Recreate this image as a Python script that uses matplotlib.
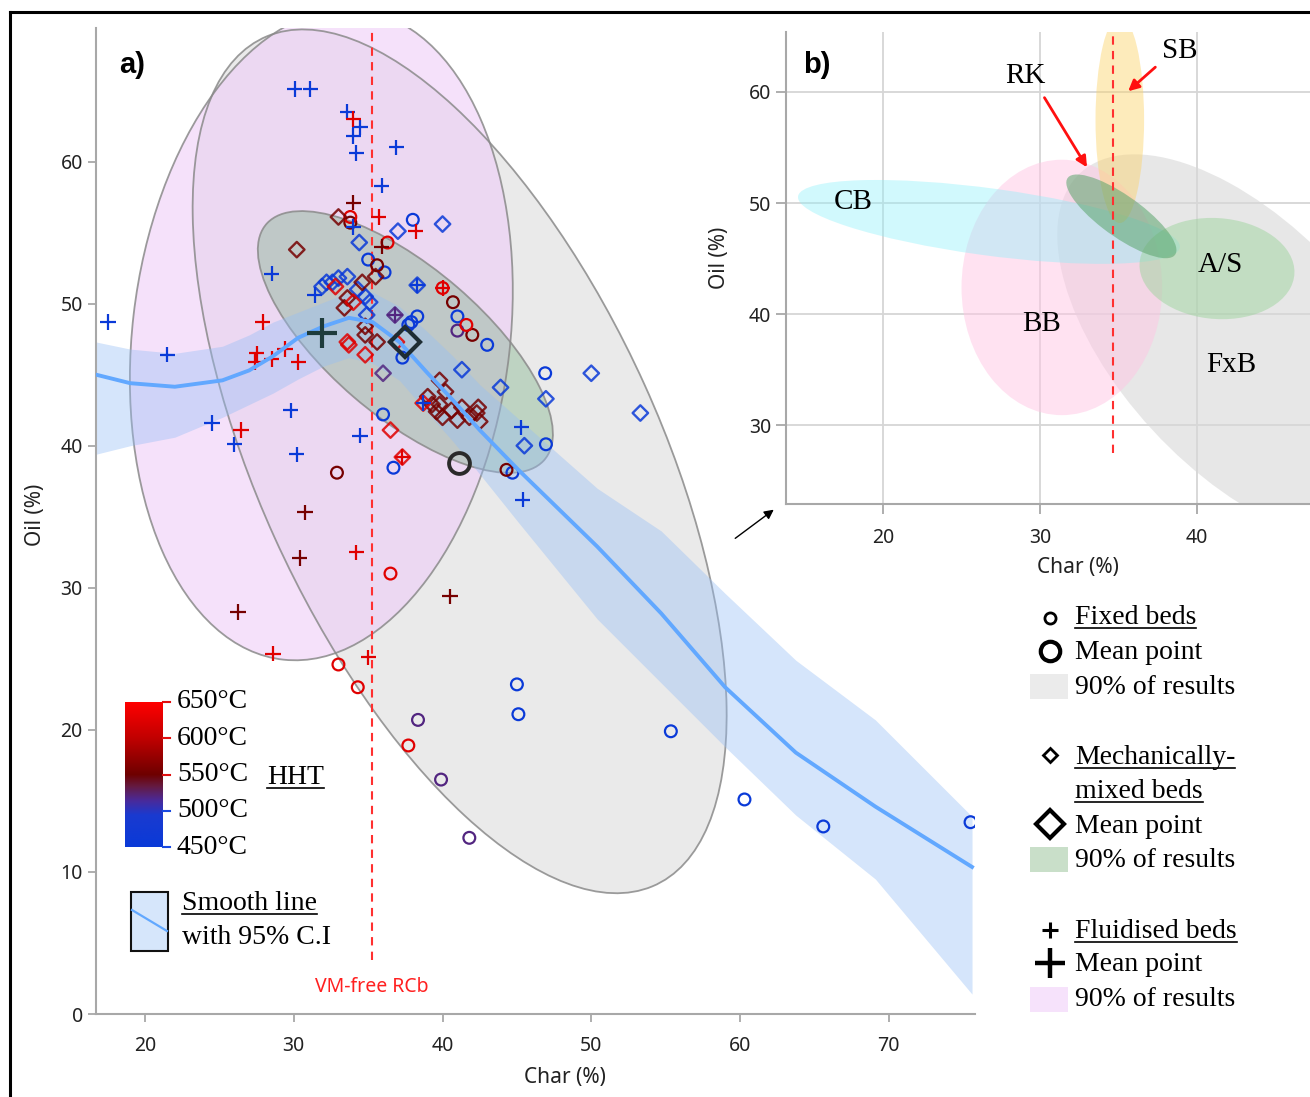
import matplotlib
matplotlib.use("Agg")
import matplotlib.pyplot as plt
from matplotlib.colors import LinearSegmentedColormap, Normalize
from matplotlib.patches import Ellipse, Rectangle
from matplotlib.lines import Line2D
import numpy as np

W, H = 1310, 1097
SANS = ["Noto Sans", "DejaVu Sans"]
BOLD = ["Liberation Sans", "DejaVu Sans"]
SERIF = ["Liberation Serif", "DejaVu Serif"]

# ---- panel a) data: char (%), oil (%), HHT (degC) ----
fluid_char = [17.5, 21.5, 24.5, 26.0, 29.8, 30.2, 34.45, 28.5, 30.05, 31.1, 33.6, 34.45,
              34.0, 34.2, 36.9, 35.9, 34.0, 31.4, 38.3, 38.7, 45.3, 45.4,
              36.8,
              34.0, 35.9, 30.75, 30.4, 40.5, 26.25,
              34.0, 35.7, 38.2, 40.0, 27.9, 27.5, 27.4, 28.5, 29.4, 30.3, 26.45, 34.2,
              28.6, 35.0, 37.3]
fluid_oil = [48.7, 46.4, 41.6, 40.1, 42.5, 39.4, 40.7, 52.1, 65.1, 65.1, 63.5, 62.4,
             61.8, 60.6, 61.0, 58.3, 55.4, 50.6, 51.3, 43.0, 41.3, 36.2,
             49.2,
             57.1, 54.0, 35.3, 32.1, 29.4, 28.3,
             63.0, 56.1, 55.1, 51.1, 48.7, 46.5, 45.9, 46.1, 46.8, 45.9, 41.1, 32.5,
             25.35, 25.1, 39.2]
fluid_temp = [450] * 22 + [520] + [555] * 6 + [625] * 15

fixed_char = [38.0, 35.0, 36.1, 37.9, 38.3, 37.7, 41.0, 43.0, 37.3, 36.0, 36.7, 44.7,
              46.9, 46.95, 45.0, 45.1, 55.35, 60.3, 65.6, 75.5,
              41.0, 38.35, 39.9, 41.8,
              33.8, 35.6, 40.7, 42.0, 32.9, 44.3,
              33.8, 36.3, 40.0, 41.6, 36.5, 33.0, 34.3, 37.7]
fixed_oil = [55.9, 53.1, 52.2, 48.7, 49.1, 48.5, 49.1, 47.1, 46.2, 42.2, 38.45, 38.1,
             45.1, 40.1, 23.2, 21.1, 19.9, 15.1, 13.2, 13.5,
             48.1, 20.7, 16.5, 12.4,
             55.7, 52.7, 50.1, 47.8, 38.1, 38.3,
             56.1, 54.3, 51.1, 48.5, 31.0, 24.6, 23.0, 18.9]
fixed_temp = [450] * 20 + [520] * 4 + [555] * 6 + [625] * 8

mixed_char = [37.0, 40.0, 34.4, 38.3, 31.9, 32.2, 32.6, 33.0, 33.6, 34.3, 34.8, 35.1,
              34.9, 41.3, 43.9, 46.95, 50.0, 53.3, 45.5,
              36.8, 36.0,
              33.0, 30.2, 35.5, 34.6, 33.6, 33.4, 34.8, 34.8, 35.6,
              39.8, 40.2, 39.0, 39.3, 39.8, 39.6, 40.0, 40.6, 41.3, 41.8, 42.4, 42.3,
              42.5, 41.0,
              32.8, 34.0, 33.6, 33.7, 34.8, 36.9, 36.5, 37.3, 38.7]
mixed_oil = [55.1, 55.6, 54.3, 51.3, 51.2, 51.5, 51.5, 51.8, 51.9, 51.0, 50.5, 50.1,
             49.2, 45.35, 44.1, 43.3, 45.1, 42.3, 40.0,
             49.2, 45.1,
             56.1, 53.8, 51.9, 51.5, 50.4, 49.7, 48.4, 47.8, 47.3,
             44.6, 43.8, 43.45, 42.9, 42.9, 42.4, 42.0, 42.5, 42.7, 42.0, 42.7, 42.3,
             41.7, 41.8,
             51.2, 50.1, 47.3, 47.1, 46.4, 47.3, 41.1, 39.2, 43.0]
mixed_temp = [450] * 19 + [520] * 2 + [555] * 23 + [625] * 9

fixed_mean = (41.1, 38.8)
mixed_mean = (37.5, 47.3)
fluid_mean = (31.9, 47.9)

# 90 % regions: centre x, centre y, width, height, angle (data units)
fixed_region = (41.15, 38.9, 65.2, 27.1, -66.6)
mixed_region = (37.5, 47.3, 25.0, 10.4, -42.0)
fluid_region = (31.85, 47.8, 46.0, 25.4, 83.7)

# smooth line with 95 % CI
smooth_char = [16.7, 19.0, 22.0, 25.2, 27.0, 28.6, 30.3, 32.0, 33.7, 35.3, 37.1, 39.0,
               40.7, 42.5, 45.1, 50.4, 54.7, 59.0, 63.75, 69.1, 75.6]
smooth_oil = [45.0, 44.4, 44.15, 44.6, 45.3, 46.3, 47.6, 48.4, 49.0, 48.7, 47.3, 45.1,
              43.2, 41.1, 38.3, 32.9, 28.2, 23.0, 18.4, 14.6, 10.35]
ci_high = [47.3, 46.8, 46.5, 47.0, 47.8, 48.7, 49.4, 50.1, 50.8, 50.8, 49.8, 48.0,
           46.3, 44.3, 41.9, 37.0, 34.0, 29.6, 24.9, 20.7, 13.9]
ci_low = [39.4, 40.0, 40.6, 42.0, 42.9, 43.7, 44.7, 45.6, 46.2, 45.8, 44.6, 42.3,
          40.3, 38.0, 34.6, 27.8, 23.3, 18.8, 14.0, 9.5, 1.4]
vm_free_char = 35.25

# ---- panel b) regions of other reactors ----
inset_regions = {
    "FxB": (43.0, 36.9, 38.5, 17.5, -62.0),
    "BB": (31.4, 42.4, 12.8, 23.0, 0.0),
    "CB": (26.75, 48.3, 24.8, 6.0, -11.0),
    "A/S": (41.3, 44.1, 10.0, 9.0, -20.0),
    "SB": (35.1, 57.5, 3.1, 18.6, 0.0),
    "RK": (35.2, 48.8, 9.8, 3.2, -47.5),
}
inset_labels = {"CB": (18.1, 50.1), "BB": (30.1, 39.1), "A/S": (41.5, 44.4),
                "FxB": (42.2, 35.4), "SB": (38.9, 63.7), "RK": (29.1, 61.4)}
inset_vm_char = 34.67

cbar_temps = [650, 600, 550, 500, 450]

cmap = LinearSegmentedColormap.from_list("hht", [
    (0.00, "#0a3ad8"), (0.22, "#1a3ad0"), (0.32, "#4a2a9a"), (0.42, "#651a40"),
    (0.50, "#6e0000"), (0.75, "#c00000"), (1.00, "#ff0000")])
norm = Normalize(450, 650)


def fx(x):
    return x / W


def fy(y):
    return 1 - y / H


def px_rect(x0, y0, x1, y1):
    return [x0 / W, 1 - y1 / H, (x1 - x0) / W, (y1 - y0) / H]


fig = plt.figure(figsize=(W / 100, H / 100), dpi=100)

# ---------------- panel a ----------------
ax = fig.add_axes(px_rect(96, 28, 975, 1014))
ax.set_xlim(16.7, 75.8)
ax.set_ylim(0, 69.4)
for s in ["top", "right"]:
    ax.spines[s].set_visible(False)
for s in ["left", "bottom"]:
    ax.spines[s].set_color("#a8a8a8")
    ax.spines[s].set_linewidth(1.5)
ax.set_xticks(range(20, 80, 10))
ax.set_yticks(range(0, 70, 10))
ax.tick_params(direction="out", length=6, width=1.3, color="#a8a8a8",
               labelsize=14, labelcolor="#222222")
ax.tick_params(axis="x", pad=10)
for t in ax.get_xticklabels() + ax.get_yticklabels():
    t.set_family(SANS)

fills = [(fixed_region, "#d9d9d9", 0.55), (fluid_region, "#efcdf8", 0.6),
         (mixed_region, "#82b48c", 0.42)]
for (cx, cy, w, h, a), col, al in fills:
    ax.add_patch(Ellipse((cx, cy), w, h, angle=a, facecolor=col, alpha=al,
                         edgecolor="none", zorder=1))
for (cx, cy, w, h, a), col, al in fills:
    ax.add_patch(Ellipse((cx, cy), w, h, angle=a, fill=False, edgecolor="#8a8a8a",
                         lw=1.3, alpha=0.85, zorder=1.5))

ax.fill_between(smooth_char, ci_low, ci_high, color="#96bef5", alpha=0.4, lw=0, zorder=2)

ax.vlines(vm_free_char, 3.8, 69.4, colors="#ff3030", linestyles=(0, (4, 3)), lw=1.5, zorder=2.5)
ax.text(vm_free_char, 1.9, "VM-free RCb", color="#ff2020", ha="center", va="center",
        fontsize=14, family=SANS)


def cols(temps):
    return cmap(norm(np.array(temps)))


ax.scatter(fixed_char, fixed_oil, marker="o", s=72, facecolors="none",
           edgecolors=cols(fixed_temp), linewidths=1.6, zorder=4)
ax.scatter(mixed_char, mixed_oil, marker="D", s=62, facecolors="none",
           edgecolors=cols(mixed_temp), linewidths=1.7, alpha=0.85, zorder=4)
ax.scatter(fluid_char, fluid_oil, marker="+", s=121, c=cols(fluid_temp),
           linewidths=1.6, zorder=4)

ax.plot(smooth_char, smooth_oil, color="#62a8ff", lw=2.8, zorder=4.5,
        solid_joinstyle="round")

ax.plot(*fixed_mean, marker="o", ms=15, mfc="none", mec="#2a2a2a", mew=2.8, zorder=5)
ax.plot(*mixed_mean, marker="D", ms=15, mfc="none", mec="#1e2d33", mew=3, zorder=5)
ax.plot(*fluid_mean, marker="+", ms=22, mec="#1e3c3c", mew=3, zorder=5)

ax.text(19.1, 66.8, "a)", fontsize=21, fontweight="bold", family=BOLD,
        ha="center", va="center")

fig.text(fx(565), fy(1077), "Char (%)", fontsize=15, family=SANS, ha="center",
         va="center", color="#222222")
fig.text(fx(35), fy(515), "Oil (%)", fontsize=15, family=SANS, ha="center",
         va="center", rotation=90, color="#222222")

# ---------------- panel b ----------------
ax2 = fig.add_axes(px_rect(786, 32, 1311, 504))
ax2.set_facecolor("white")
ax2.set_zorder(3)
ax2.set_xlim(13.8, 47.3)
ax2.set_ylim(22.9, 65.4)
for s in ["top", "right"]:
    ax2.spines[s].set_visible(False)
for s in ["left", "bottom"]:
    ax2.spines[s].set_color("#a8a8a8")
    ax2.spines[s].set_linewidth(1.5)
ax2.set_xticks([20, 30, 40])
ax2.set_yticks([30, 40, 50, 60])
ax2.tick_params(direction="out", length=7, width=1.3, color="#a8a8a8",
                labelsize=14, labelcolor="#222222")
ax2.tick_params(axis="x", pad=10)
for t in ax2.get_xticklabels() + ax2.get_yticklabels():
    t.set_family(SANS)
ax2.grid(True, color="#d6d6d6", lw=1.3)
ax2.set_axisbelow(True)

inset_style = {"FxB": ("#d8d8d8", 0.6), "BB": ("#ffc6e4", 0.5), "CB": ("#8ef0fa", 0.4),
               "A/S": ("#9ed49e", 0.5), "SB": ("#fcd36a", 0.45), "RK": ("#5aa46c", 0.55)}
for name, (cx, cy, w, h, a) in inset_regions.items():
    col, al = inset_style[name]
    ax2.add_patch(Ellipse((cx, cy), w, h, angle=a, facecolor=col, alpha=al,
                          edgecolor="none", zorder=1))
ax2.vlines(inset_vm_char, 27.5, 65.4, colors="#ff3030", linestyles=(0, (4, 3)),
           lw=1.5, zorder=2)
for name, (x, y) in inset_labels.items():
    ax2.text(x, y, name, fontsize=21, family=SERIF, ha="center", va="center", zorder=3)
arrow_red = dict(arrowstyle="-|>", color="#ff1010", lw=2, mutation_scale=16)
ax2.annotate("", xy=(33.1, 53.0), xytext=(30.2, 59.7), arrowprops=arrow_red, zorder=3)
ax2.annotate("", xy=(35.5, 59.9), xytext=(37.5, 62.4), arrowprops=arrow_red, zorder=3)
ax2.text(15.8, 62.4, "b)", fontsize=21, fontweight="bold", family=BOLD,
         ha="center", va="center")

fig.text(fx(1078), fy(568), "Char (%)", fontsize=15, family=SANS, ha="center",
         va="center", color="#222222")
fig.text(fx(720), fy(258), "Oil (%)", fontsize=15, family=SANS, ha="center",
         va="center", rotation=90, color="#222222")

fig.add_artist(plt.Annotation("", xy=(fx(776), fy(508)), xytext=(fx(733), fy(540)),
                              xycoords="figure fraction", textcoords="figure fraction",
                              arrowprops=dict(arrowstyle="-|>", color="k", lw=1,
                                              mutation_scale=14)))

# ---------------- colour bar legend ----------------
cax = fig.add_axes(px_rect(125, 702, 163, 847))
cax.imshow(np.linspace(1, 0, 256)[:, None], aspect="auto", cmap=cmap,
           extent=(0, 1, 450, 650))
cax.set_axis_off()
for tmp in cbar_temps:
    y = 702 + (650 - tmp) / 200 * 145
    tc = "#e01010" if tmp >= 550 else "#1a4ae0"
    fig.add_artist(Line2D([fx(163), fx(170)], [fy(y), fy(y)], color=tc, lw=1.5))
    fig.text(fx(177), fy(y), f"{tmp}°C", fontsize=20, family=SERIF, va="center")

underlined = []


def serif_text(x, y, s, ul=False):
    t = fig.text(fx(x), fy(y), s, fontsize=20, family=SERIF, va="baseline")
    if ul:
        underlined.append((t, y + 4))
    return t


serif_text(267, 784, "HHT", ul=True)

fig.add_artist(Rectangle((fx(131), fy(951)), 37 / W, 59 / H, transform=fig.transFigure,
                         facecolor="#d6e6fb", edgecolor="#111111", lw=1.5))
fig.add_artist(Line2D([fx(132), fx(167)], [fy(910), fy(931)], color="#62a8ff", lw=1.6))
serif_text(182, 910, "Smooth line", ul=True)
serif_text(182, 944, "with 95% C.I")

# ---------------- right legend ----------------
legend_rows = [
    ("o", 8, 2.0, 618, "Fixed beds", 624, True),
    ("o", 14, 3.0, 651, "Mean point", 659, False),
    ("D", 7, 2.0, 755, "Mechanically-", 764, True),
    ("D", 14, 3.0, 824, "Mean point", 833, False),
    ("+", 12, 2.2, 930, "Fluidised beds", 938, True),
    ("+", 21, 3.2, 963, "Mean point", 971, False),
]
for mk, ms, mw, my, label, by, ul in legend_rows:
    fig.add_artist(Line2D([fx(1050)], [fy(my)], marker=mk, ms=ms, mew=mw, mfc="none",
                          mec="black", color="black", ls="none"))
    serif_text(1075, by, label, ul=ul)
serif_text(1075, 798, "mixed beds", ul=True)

patch_rows = [(674, "#ebebeb", 694), (847, "#c9dfc9", 867), (987, "#f6e2fb", 1006)]
for top, col, by in patch_rows:
    fig.add_artist(Rectangle((fx(1030), fy(top + 25)), 38 / W, 25 / H,
                             transform=fig.transFigure, facecolor=col, edgecolor="none"))
    serif_text(1075, by, "90% of results")

# outer frame
fig.add_artist(Line2D([fx(10), fx(1320)], [fy(12), fy(12)], color="black", lw=2.2))
fig.add_artist(Line2D([fx(10), fx(10)], [fy(12), fy(1110)], color="black", lw=2.2))

fig.canvas.draw()
for t, uy in underlined:
    bb = t.get_window_extent()
    fig.add_artist(Line2D([bb.x0 / W, bb.x1 / W], [fy(uy), fy(uy)], color="black", lw=1.2))

fig.savefig("out.png", dpi=100)
